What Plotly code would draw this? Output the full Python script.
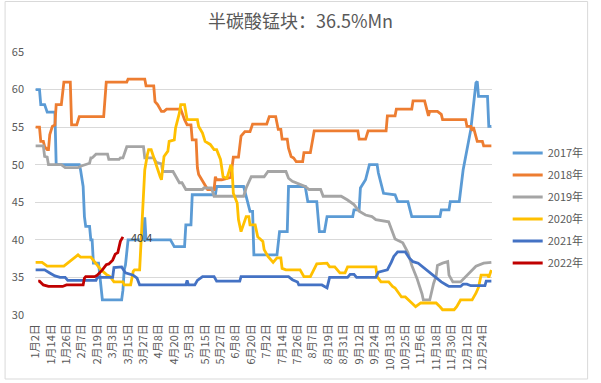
import datetime as dt
import plotly.graph_objects as go

# ---- categories: trading dates (non-leap year, 5/1 and 10/1-10/7 skipped) ----
skip = {(5, 1)} | {(10, d) for d in range(1, 8)}
categories = []
d = dt.date(2021, 1, 2)
while d.year == 2021:
    if (d.month, d.day) not in skip:
        categories.append(f"{d.month}月{d.day}日")
    d += dt.timedelta(days=1)
tick_labels = categories[::12]

# ---- series: (category index, price) key points ----
idx_2017 = [0, 3, 4, 7, 9, 15, 16, 34, 35, 37, 38, 39, 42, 43, 44, 45, 49, 52, 67, 68, 69, 70, 72, 84, 85, 86,
            105, 108, 116, 117, 121, 122, 140, 141, 162, 164, 167, 169, 170, 188, 190, 196, 197, 210, 212, 219,
            221, 225, 227, 247, 248, 252, 253, 257, 260, 266, 267, 271, 280, 282, 290, 293, 315, 316, 322, 323,
            330, 333, 336, 339, 343, 344, 345, 352, 353, 355]
val_2017 = [60, 60, 58, 58, 57, 57, 50, 50, 49.3, 47.1, 43.1, 41.8, 41.8, 40, 40, 36.9, 36.9, 32, 32, 33.3, 36,
            36.7, 40, 40, 43, 40, 40, 39.1, 39.1, 42, 42, 46, 46, 47.1, 47.1, 45.8, 43.8, 43.8, 38, 38, 41.1,
            41.1, 47.1, 47.1, 45.1, 45.1, 41.1, 41.1, 43.1, 43.1, 44, 44, 46.9, 48, 50, 50, 48.9, 46.2, 46,
            45.1, 45.1, 43.1, 43.1, 44, 44, 45.1, 45.1, 49.3, 52.2, 54.7, 60.9, 61.1, 59.1, 59.1, 55.1, 55.1]

idx_2018 = [0, 3, 4, 6, 7, 9, 10, 11, 13, 15, 16, 20, 22, 27, 28, 32, 34, 53, 55, 71, 72, 85, 86, 92, 93, 95, 98,
            100, 102, 113, 116, 118, 121, 122, 125, 126, 127, 130, 134, 139, 140, 141, 145, 152, 154, 158, 160,
            163, 167, 169, 180, 182, 187, 189, 191, 192, 196, 197, 199, 201, 203, 208, 209, 214, 217, 251, 252,
            257, 259, 273, 274, 280, 281, 293, 294, 303, 306, 307, 313, 316, 317, 335, 336, 339, 340, 341, 344,
            348, 349, 355]
val_2018 = [55, 55, 53.1, 53.1, 52.4, 52, 52, 54, 55.1, 55.3, 58, 58, 61, 61, 55.3, 55.3, 56.4, 56.4, 61, 61,
            61.4, 61.4, 60.5, 60.5, 58.4, 58, 57.1, 57.1, 57.4, 57.4, 56, 55.3, 55.3, 53.3, 53.3, 49.6, 48.7,
            47.8, 46.7, 46.7, 48.4, 48, 48, 48.3, 51, 51, 53.8, 54.4, 54.4, 55.4, 55.4, 56.4, 56.4, 54.7, 54.7,
            53.4, 53.4, 52.2, 51.1, 50.9, 50.4, 50.4, 51.6, 51.6, 54.5, 54.5, 53.4, 53.4, 54.5, 54.5, 56.5, 56.5,
            57.4, 57.4, 58.5, 58.5, 56.5, 57.1, 57.1, 56.7, 56, 56, 55.1, 55.1, 54.5, 55, 53.1, 53.1, 52.5, 52.5]

idx_2019 = [0, 6, 7, 9, 10, 20, 23, 33, 35, 42, 43, 44, 47, 56, 57, 65, 66, 68, 71, 84, 85, 92, 94, 98, 99, 107,
            112, 114, 117, 130, 131, 137, 139, 162, 164, 168, 178, 181, 195, 197, 200, 210, 213, 222, 224, 238,
            243, 248, 252, 257, 262, 265, 275, 278, 280, 286, 290, 293, 297, 301, 302, 307, 310, 312, 313, 317,
            321, 322, 325, 331, 339, 343, 349, 355]
val_2019 = [52.5, 52.5, 51.1, 51, 50, 50, 49.6, 49.6, 49.8, 50.2, 50.9, 50.9, 51.4, 51.4, 50.7, 50.7, 50.9,
            50.9, 52.4, 52.4, 50.9, 50.9, 50.3, 50.1, 49.1, 49.1, 47.6, 47.6, 46.7, 46.7, 46.9, 46.9, 45.8, 45.8,
            46.9, 48.4, 48.4, 49.1, 49.1, 48.2, 47.8, 47.1, 46.7, 46.7, 45.8, 45.8, 45.3, 44.7, 43.8, 43.3, 43.1,
            42.7, 42.4, 41.1, 40.1, 39.6, 38.3, 36.6, 34.9, 32.8, 32, 32, 34.2, 35.2, 36.6, 36.9, 37.1, 35.3,
            34.4, 34.4, 35.8, 36.5, 36.9, 37]

idx_2020 = [0, 5, 9, 22, 33, 35, 43, 47, 51, 55, 58, 61, 68, 69, 74, 76, 77, 81, 83, 85, 87, 88, 90, 92, 94, 97,
            98, 100, 103, 104, 108, 109, 112, 113, 116, 117, 118, 126, 127, 130, 132, 136, 139, 141, 144, 146,
            149, 151, 152, 153, 154, 157, 158, 160, 163, 164, 166, 167, 171, 173, 177, 178, 181, 185, 188, 191,
            192, 195, 206, 209, 214, 217, 219, 227, 229, 233, 237, 241, 243, 265, 266, 269, 275, 278, 280, 285,
            288, 293, 296, 300, 312, 315, 317, 326, 328, 331, 340, 343, 345, 347, 352, 353, 355]
val_2020 = [37, 37, 36.5, 36.5, 38, 37.7, 37.7, 36.8, 36, 35.4, 35.1, 34.4, 34.4, 34, 34, 35.8, 36, 36, 43,
            49.3, 51.3, 52, 52, 50.9, 49.8, 48.4, 48, 51.1, 51.8, 53.1, 53.3, 54.9, 56.9, 58, 58, 57.1, 56, 56,
            55.1, 54.2, 53.1, 52.7, 52, 52, 50.7, 48.4, 48.2, 49.3, 50, 49.5, 46.2, 44.9, 42.7, 41.1, 42.7,
            43.1, 43.1, 42, 42, 40.4, 39.8, 38.7, 37.8, 37, 37.6, 37.6, 36.2, 36, 36, 35.1, 35.1, 36, 36.8,
            36.9, 36.4, 36.4, 35.6, 35.6, 36.4, 36.4, 35.1, 34.4, 34.4, 33.8, 33.6, 32.4, 32.4, 31.6, 31.1,
            31.6, 31.6, 31.1, 30.7, 30.7, 31.1, 32, 32, 32.9, 33.7, 35.3, 35.3, 35, 36]

idx_2021 = [0, 7, 11, 15, 19, 23, 25, 47, 48, 60, 61, 66, 67, 70, 76, 79, 81, 117, 118, 119, 124, 126, 130, 139,
            141, 159, 160, 197, 200, 204, 205, 223, 227, 229, 243, 245, 248, 250, 265, 267, 274, 277, 279, 282,
            288, 291, 294, 298, 303, 306, 310, 312, 316, 320, 322, 331, 333, 336, 339, 350, 351, 355]
val_2021 = [36, 36, 35.6, 35.2, 35, 35, 34.6, 34.6, 35, 35, 36.3, 36.4, 36.4, 35.6, 35.3, 34.9, 34, 34, 34.6,
            34, 34, 34.6, 35.1, 35.1, 34.5, 34.5, 35.1, 35.1, 34.7, 34.4, 34, 34, 33.6, 35, 35, 35.4, 35.4, 35,
            35, 35.7, 36, 37, 37.8, 38.4, 38.4, 37.6, 37.1, 36.9, 36.2, 35.8, 35.3, 34.9, 34.4, 34, 33.8, 33.8,
            34.1, 34.1, 33.9, 33.9, 34.5, 34.5]

idx_2022 = [2, 3, 6, 10, 21, 24, 37, 38, 39, 46, 48, 52, 55, 57, 60, 62, 64, 66, 68]
val_2022 = [34.5, 34.5, 34, 33.8, 33.8, 34, 34, 34.9, 35.1, 35.1, 35.3, 36, 36.7, 36.8, 37.3, 38.1, 38.3,
            39.8, 40.4]

series = [
    ("2017年", idx_2017, val_2017, "#5B9BD5"),
    ("2018年", idx_2018, val_2018, "#ED7D31"),
    ("2019年", idx_2019, val_2019, "#A5A5A5"),
    ("2020年", idx_2020, val_2020, "#FFC000"),
    ("2021年", idx_2021, val_2021, "#4472C4"),
    ("2022年", idx_2022, val_2022, "#C00000"),
]

W, H = 601, 383
ML, MR, MT, MB = 33, 102, 52, 68
PW, PH = W - ML - MR, H - MT - MB

fig = go.Figure()
for name, idx, vals, color in series:
    fig.add_trace(go.Scatter(
        x=[categories[i] for i in idx], y=vals, name=name, mode="lines",
        line=dict(color=color, width=2.8), legendgroup=name,
    ))

fig.add_annotation(x=categories[idx_2022[-1]], y=val_2022[-1], text=f"{val_2022[-1]}",
                   showarrow=False, xanchor="left", yanchor="middle", xshift=6, yshift=0,
                   font=dict(size=11, color="#404040"))

def px_x(p):
    return (p - ML) / PW

def px_y(p):
    return (H - MB - p) / PH

fig.add_shape(type="rect", xref="paper", yref="paper",
              x0=px_x(2.5), x1=px_x(596.5), y0=px_y(379), y1=px_y(1.5),
              line=dict(color="#D9D9D9", width=1), fillcolor="rgba(0,0,0,0)", layer="below")

fig.update_layout(
    width=W, height=H,
    margin=dict(l=ML, r=MR, t=MT, b=MB),
    paper_bgcolor="white", plot_bgcolor="white",
    hovermode=False,
    font=dict(family="Microsoft YaHei, Noto Sans CJK SC, sans-serif", color="#595959"),
    title=dict(text="半碳酸锰块：36.5%Mn", x=0.5, xanchor="center", y=1 - 22 / H, yanchor="middle",
               font=dict(size=18, color="#595959")),
    showlegend=True,
    legend=dict(x=px_x(515), xanchor="left", y=px_y(208), yanchor="middle",
                font=dict(size=11, color="#595959"), traceorder="grouped", tracegroupgap=3,
                bgcolor="rgba(0,0,0,0)"),
    xaxis=dict(type="category", categoryorder="array", categoryarray=categories,
               range=[-0.5, len(categories) - 0.5], tickmode="array",
               tickvals=tick_labels, ticktext=tick_labels, tickangle=-90,
               tickfont=dict(size=11, color="#595959"), showgrid=False, zeroline=False,
               showline=False, ticks="", ticklabelstandoff=6),
    yaxis=dict(range=[30, 65], tickvals=[30, 35, 40, 45, 50, 55, 60, 65], showgrid=True,
               gridcolor="#D9D9D9", gridwidth=1, zeroline=False, showline=False, ticks="",
               tickfont=dict(size=11, color="#595959"), ticklabelstandoff=10),
)

fig.write_html("out.html", config={"displayModeBar": False},
               post_script="document.body.style.margin='0';document.body.style.overflow='hidden';")
